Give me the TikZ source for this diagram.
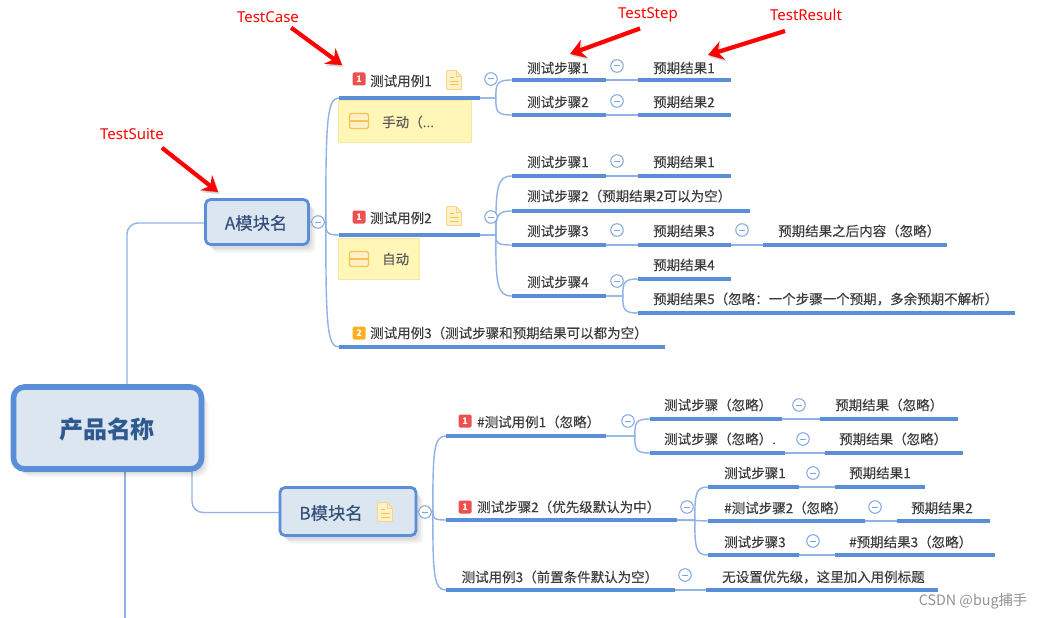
\documentclass[tikz,border=0pt]{standalone}
\usepackage{fontspec}
\setmainfont{Noto Sans CJK SC}
\newfontfamily\lblfont[FakeBold=0.2]{Noto Sans CJK SC}
\newfontfamily\latinfont{Noto Sans}
\usetikzlibrary{calc,arrows.meta}
\definecolor{barblue}{HTML}{5A8FD8}
\definecolor{connblue}{HTML}{8FB3E6}
\definecolor{fillblue}{HTML}{DCE6F1}
\definecolor{darkblue}{HTML}{2F5A8F}
\definecolor{modtext}{HTML}{33507A}
\definecolor{txt}{HTML}{3C3C3C}
\definecolor{noteline}{HTML}{F7D588}
\definecolor{notefill}{HTML}{FFF0C8}
\definecolor{noterule}{HTML}{F4C650}
\definecolor{callfill}{HTML}{FFF6B8}
\definecolor{callline}{HTML}{FBE8A0}
\definecolor{badgered}{HTML}{EE4F4F}
\definecolor{badgeorange}{HTML}{FFB020}
\tikzset{
  x=1pt,y=-1pt,
  bar/.style={rectangle,fill=barblue,inner sep=0pt,minimum height=3.8pt},
  lbl/.style={inner sep=0pt,anchor=west,font=\lblfont\fontsize{13.5}{15}\selectfont,text=txt},
  conn/.style={draw=connblue,line width=1.4pt},
  coll/.style={circle,draw=barblue!80,fill=white,line width=1pt,inner sep=0pt,minimum size=12.5pt,
    path picture={\draw[barblue!80,line width=1pt] ($(path picture bounding box.center)+(-3pt,0)$) -- ($(path picture bounding box.center)+(3pt,0)$);}},
  badge/.style={rounded corners=1.5pt,inner sep=0pt,minimum width=13pt,minimum height=13pt,text=white,font=\fontsize{9}{10}\bfseries\selectfont},
  softshadow/.style={
    preaction={fill=black,opacity=.04,transform canvas={shift={(7pt,-8pt)}}},
    preaction={fill=black,opacity=.05,transform canvas={shift={(5pt,-6pt)}}},
    preaction={fill=black,opacity=.06,transform canvas={shift={(3pt,-4pt)}}}},
  modbox/.style={rectangle,rounded corners=5pt,draw=barblue,fill=fillblue,line width=2.8pt,inner sep=0pt,softshadow},
  rootbox/.style={rectangle,rounded corners=11pt,draw=barblue,fill=fillblue,line width=5.6pt,inner sep=0pt,softshadow},
  callbox/.style={rectangle,draw=callline,fill=callfill,line width=.8pt,inner sep=0pt},
  redlbl/.style={inner sep=0pt,text=red,font=\latinfont\fontsize{15}{17}\selectfont},
  redarrow/.style={draw=red,line width=4.2pt,-{Stealth[length=15pt,width=19pt,inset=5pt]},
    preaction={draw=black,opacity=.15,transform canvas={shift={(1.5pt,-2pt)}}}},
  iconspot/.style={inner sep=0pt,minimum width=16pt,minimum height=20pt}
}
% name, x1, x2, y, text left x, text cy, text
\newcommand\topic[7]{%
  \node[bar,minimum width={(#3)-(#2)}] (#1) at ({((#2)+(#3))/2},#4) {};
  \node[lbl] (#1t) at (#5,#6) {#7};}
% connector with branch point at given distance before target
\newcommand\branch[3]{%
  \draw[conn] let \p1=(#1.east),\p2=(#2.west) in (\p1) -- (\x2-#3pt,\y1)
    .. controls (\x2-#3pt,{\y1+0.8*(\y2-\y1)}) and (\x2-#3pt+1pt,\y2) .. (\p2);}
\newcommand\straight[2]{\draw[conn] (#1.east) -- (#2.west);}
\newcommand\noteicon[3]{%
  \node[iconspot] (#1) at (#2,#3) {};
  \draw[noteline,fill=notefill,line width=.9pt,rounded corners=.8pt]
    ($(#1.center)+(-7.5pt,9.5pt)$) -- ($(#1.center)+(2pt,9.5pt)$) -- ($(#1.center)+(7.5pt,4pt)$)
    -- ($(#1.center)+(7.5pt,-9.5pt)$) -- ($(#1.center)+(-7.5pt,-9.5pt)$) -- cycle;
  \draw[noteline,line width=.9pt] ($(#1.center)+(2pt,9.5pt)$) -- ($(#1.center)+(2pt,4pt)$) -- ($(#1.center)+(7.5pt,4pt)$);
  \draw[noterule,line width=1pt]
    ($(#1.center)+(-4.5pt,2.5pt)$) -- ($(#1.center)+(-.5pt,2.5pt)$)
    ($(#1.center)+(-4.5pt,-1.5pt)$) -- ($(#1.center)+(4.5pt,-1.5pt)$)
    ($(#1.center)+(-4.5pt,-5pt)$) -- ($(#1.center)+(4.5pt,-5pt)$);}
\newcommand\callicon[3]{%
  \node[inner sep=0pt,minimum width=20pt,minimum height=16pt] (#1) at (#2,#3) {};
  \draw[noterule,fill=notefill,line width=1.3pt,rounded corners=2pt]
    ($(#1.center)+(-9.5pt,-7.5pt)$) rectangle ($(#1.center)+(9.5pt,7.5pt)$);
  \draw[noterule,line width=1.3pt] ($(#1.center)+(-9.5pt,0)$) -- ($(#1.center)+(9.5pt,0)$);}
\begin{document}
\begin{tikzpicture}
\useasboundingbox (0,0) rectangle (1042,618);
\fill[white] (0,0) rectangle (1042,618);

\coordinate (rootdown) at (125,618);

% connectors from root (drawn before boxes)
\draw[conn,rounded corners=11pt] (127,386) -- (127,223) -- (205,223);
\draw[conn] (125,470) -- (rootdown);
\draw[conn,rounded corners=11pt] (192,470) -- (192,512.5) -- (280,512.5);

\node[rootbox,minimum width=188pt,minimum height=82pt] (root) at (107.5,428) {};
\node[inner sep=0pt,text=darkblue,font=\fontsize{24}{26}\bfseries\selectfont] (roott) at (107,429) {产品名称};

\node[modbox,minimum width=103pt,minimum height=45pt] (A) at (257,222) {};
\node[inner sep=0pt,text=modtext,font=\lblfont\fontsize{17.3}{20}\selectfont] (At) at (256,223) {A模块名};
\node[modbox,minimum width=136pt,minimum height=48pt] (B) at (348,511.5) {};
\node[inner sep=0pt,text=modtext,font=\lblfont\fontsize{17.3}{20}\selectfont] (Bt) at (331,513) {B模块名};
\noteicon{Bn}{385}{512}

% ---- A branch
\topic{ta}{339}{480}{98}{370}{81}{测试用例1}
\topic{tb}{339}{480}{235}{370}{218}{测试用例2}
\topic{tc}{339}{665}{347}{370}{333}{测试用例3（测试步骤和预期结果可以都为空）}
\branch{A}{ta}{13}
\branch{A}{tb}{13}
\branch{A}{tc}{13}

\node[callbox,minimum width=133pt,minimum height=42pt] (ca) at (404.5,121) {};
\callicon{cai}{359}{121}
\node[lbl,text=txt!85] (cat) at (382,122) {手动（...};
\node[callbox,minimum width=81pt,minimum height=41pt] (cb) at (378.5,259) {};
\callicon{cbi}{359}{259}
\node[lbl,text=txt!85] (cbt) at (382,259) {自动};

\node[badge,fill=badgered] (ba) at (359,79) {1};
\noteicon{na}{454}{80}
\node[badge,fill=badgered] (bb) at (359,217) {1};
\noteicon{nb}{454}{216}
\node[badge,fill=badgeorange] (bc) at (359,333) {2};

\topic{a1}{512}{606}{80}{527}{68}{测试步骤1}
\topic{a1r}{638}{731}{80}{653}{68}{预期结果1}
\topic{a2}{512}{606}{115}{527}{102}{测试步骤2}
\topic{a2r}{638}{731}{115}{653}{102}{预期结果2}
\branch{ta}{a1}{16}
\branch{ta}{a2}{16}
\straight{a1}{a1r}
\straight{a2}{a2r}

\topic{b1}{512}{606}{176}{527}{162}{测试步骤1}
\topic{b1r}{638}{731}{176}{653}{162}{预期结果1}
\topic{b2}{512}{750}{211}{527}{196}{测试步骤2（预期结果2可以为空）}
\topic{b3}{512}{606}{245}{527}{231}{测试步骤3}
\topic{b3r}{638}{731}{245}{653}{231}{预期结果3}
\topic{b3s}{763}{947}{245}{778}{231}{预期结果之后内容（忽略）}
\topic{b4}{512}{606}{296}{527}{282}{测试步骤4}
\topic{b4r}{638}{731}{279}{653}{265}{预期结果4}
\topic{b5r}{638}{1015}{313}{653}{299}{预期结果5（忽略：一个步骤一个预期，多余预期不解析）}
\branch{tb}{b1}{16}
\branch{tb}{b2}{16}
\branch{tb}{b3}{16}
\branch{tb}{b4}{16}
\straight{b1}{b1r}
\straight{b3}{b3r}
\straight{b3r}{b3s}
\branch{b4}{b4r}{15}
\branch{b4}{b5r}{15}

% ---- B branch
\topic{ua}{446}{606}{436}{477}{422}{\#测试用例1（忽略）}
\topic{ub}{446}{677}{520}{477}{507}{测试步骤2（优先级默认为中）}
\topic{uc}{446}{675}{590}{461.5}{577}{测试用例3（前置条件默认为空）}
\branch{B}{ua}{13}
\branch{B}{ub}{13}
\branch{B}{uc}{13}
\node[badge,fill=badgered] (bd) at (465,421) {1};
\node[badge,fill=badgered] (be) at (465,507) {1};

\topic{c1}{650}{782}{419}{664}{405}{测试步骤（忽略）}
\topic{c1r}{820}{958}{419}{835}{405}{预期结果（忽略）}
\topic{c2}{650}{785}{453}{664}{439}{测试步骤（忽略）.}
\topic{c2r}{825}{963}{453}{839}{439}{预期结果（忽略）}
\branch{ua}{c1}{15}
\branch{ua}{c2}{15}
\straight{c1}{c1r}
\straight{c2}{c2r}

\topic{d1}{708}{799}{487}{724}{473}{测试步骤1}
\topic{d1r}{835}{925}{487}{849}{473}{预期结果1}
\topic{d2}{708}{865}{521}{724}{508}{\#测试步骤2（忽略）}
\topic{d2r}{897}{990}{521}{911}{508}{预期结果2}
\topic{d3}{708}{799}{555}{724}{542}{测试步骤3}
\topic{d3r}{835}{995}{555}{849}{542}{\#预期结果3（忽略）}
\branch{ub}{d1}{13}
\straight{ub}{d2}
\branch{ub}{d3}{13}
\straight{d1}{d1r}
\straight{d2}{d2r}
\straight{d3}{d3r}

\topic{e1}{706}{938}{590}{722}{577}{无设置优先级，这里加入用例标题}
\straight{uc}{e1}

% ---- collapse buttons
\node[coll] (ka) at (318,222) {};
\node[coll] (kb) at (425,512) {};
\foreach \n/\x/\y in {k1/491/79,k2/617/66,k3/617/101,k4/491/217,k5/617/161,k6/617/230,k7/742/230,k8/617/281,
  k9/628/421,k10/799/405,k11/803/439,k12/687/507,k13/813/473,k14/875/507,k15/813/541,k16/685/575}
  \node[coll] (\n) at (\x,\y) {};

% ---- red annotations
\node[redlbl] (lcase) at (268,17) {TestCase};
\node[redlbl] (lstep) at (648,15) {TestStep};
\node[redlbl] (lres) at (806,15) {TestResult};
\node[redlbl] (lsuite) at (132,134) {TestSuite};
\coordinate (pcase) at (342,65);
\coordinate (pstep) at (570,54);
\coordinate (pres) at (708,55);
\coordinate (psuite) at (218,192);
\draw[redarrow] (lcase.south east)++(-8pt,-5pt) -- (pcase);
\draw[redarrow] (lstep.south)++(-8pt,-6pt) -- (pstep);
\draw[redarrow] (lres.south)++(-21pt,-10pt) -- (pres);
\draw[redarrow] (lsuite.south)++(30pt,-8pt) -- (psuite);

% ---- watermark
\node[inner sep=0pt,text=gray!85,font=\fontsize{14.3}{16}\selectfont] (wm) at (973,601) {CSDN @bug捕手};
\end{tikzpicture}
\end{document}
